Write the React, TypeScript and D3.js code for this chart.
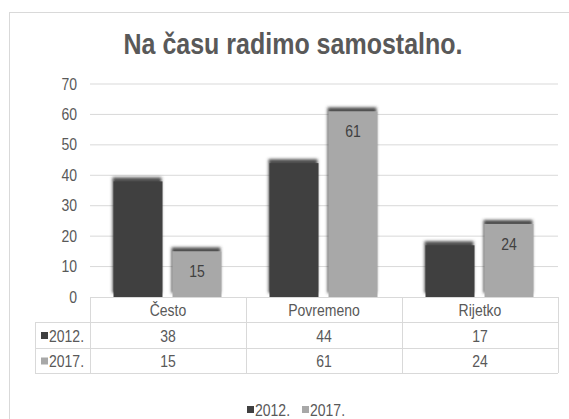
import React from "react";
import * as d3 from "d3";

const categories = ["Često", "Povremeno", "Rijetko"];
const seriesNames = ["2012.", "2017."];
const values2012 = [38, 44, 17];
const values2017 = [15, 61, 24];
const yTicks = [0, 10, 20, 30, 40, 50, 60, 70];
const title = "Na času radimo samostalno.";

const colors = ["#404040", "#A8A8A8"];
const textColor = "#595959";
const gridColor = "#D9D9D9";
const font = "'Liberation Sans', Arial, sans-serif";
const SY = 1.15;

function T(props: { x: number; y: number; size: number; anchor?: string; fill?: string; weight?: string; mid?: boolean; children: any }) {
  const { x, y, size, anchor = "start", fill = textColor, weight = "normal", mid = true, children } = props;
  return (
    <g transform={`translate(${x},${y}) scale(1,${SY})`}>
      <text x={0} y={0} dy={mid ? "0.35em" : undefined} textAnchor={anchor} fontSize={size} fontWeight={weight} fill={fill}>
        {children}
      </text>
    </g>
  );
}

export default function App() {
  const W = 569, H = 419;
  const plotLeft = 90, plotRight = 558;
  const y = d3.scaleLinear().domain([0, 70]).range([297, 84]);
  const x = d3.scaleBand<string>().domain(categories).range([plotLeft, plotRight]);
  const bw = x.bandwidth();
  const sub = d3.scaleBand<string>().domain(seriesNames).range([23.5, 23.5 + 108]).paddingInner(0.17);
  const series = [values2012, values2017];
  const rowY = [297, 322, 348, 373];

  return (
    <svg width={W} height={H} style={{ position: "absolute", left: 0, top: 0, background: "#fff" }} fontFamily={font}>
      <defs>
        <filter id="sh" x="-20%" y="-20%" width="140%" height="140%">
          <feGaussianBlur in="SourceAlpha" stdDeviation="1.6" result="b" />
          <feOffset in="b" dx="-1.5" dy="-4.5" result="o" />
          <feFlood floodColor="#3a3a3a" floodOpacity="0.9" />
          <feComposite in2="o" operator="in" result="s" />
          <feMerge>
            <feMergeNode in="s" />
            <feMergeNode in="SourceGraphic" />
          </feMerge>
        </filter>
      </defs>
      <rect x={0} y={0} width={W} height={H} fill="#fff" />
      <rect x={9.5} y={12.5} width={W} height={H} fill="none" stroke={gridColor} />
      <T x={293} y={54} size={25} anchor="middle" weight="bold" mid={false}>{title}</T>
      {yTicks.map((t) => (
        <g key={t}>
          {t > 0 && <line x1={plotLeft} x2={plotRight} y1={y(t)} y2={y(t)} stroke={gridColor} />}
          <T x={77} y={y(t)} size={14} anchor="end">{t}</T>
        </g>
      ))}
      {categories.map((c, i) => (
        <g key={c} transform={`translate(${x(c)},0)`}>
          {seriesNames.map((s, j) => {
            const v = series[j][i];
            const bx = sub(s)!;
            const w = sub.bandwidth();
            return (
              <g key={s}>
                <rect x={bx} y={y(v)} width={w} height={y(0) - y(v)} fill={colors[j]} filter="url(#sh)" />
                <T x={bx + w / 2} y={y(v) + 20} size={14} anchor="middle" fill="#404040">{v}</T>
              </g>
            );
          })}
        </g>
      ))}
      {/* data table */}
      <line x1={plotLeft} x2={plotRight} y1={rowY[0] + 0.5} y2={rowY[0] + 0.5} stroke={gridColor} />
      {rowY.slice(1).map((ry) => (
        <line key={ry} x1={35} x2={plotRight} y1={ry + 0.5} y2={ry + 0.5} stroke={gridColor} />
      ))}
      <line x1={35.5} x2={35.5} y1={rowY[1]} y2={rowY[3]} stroke={gridColor} />
      <line x1={plotLeft + 0.5} x2={plotLeft + 0.5} y1={rowY[0]} y2={rowY[3]} stroke={gridColor} />
      {categories.map((c) => (
        <line key={c} x1={x(c)! + bw + 0.5} x2={x(c)! + bw + 0.5} y1={rowY[0]} y2={rowY[3]} stroke={gridColor} />
      ))}
      {categories.map((c) => (
        <T key={c} x={x(c)! + bw / 2} y={(rowY[0] + rowY[1]) / 2 + 1} size={14} anchor="middle">{c}</T>
      ))}
      {seriesNames.map((s, j) => {
        const cy = (rowY[j + 1] + rowY[j + 2]) / 2 + 1;
        return (
          <g key={s}>
            <rect x={41} y={cy - 4} width={7} height={7} fill={colors[j]} />
            <T x={49} y={cy} size={14}>{s}</T>
            {categories.map((c, i) => (
              <T key={c} x={x(c)! + bw / 2} y={cy} size={14} anchor="middle">{series[j][i]}</T>
            ))}
          </g>
        );
      })}
      {/* legend */}
      {seriesNames.map((s, j) => {
        const lx = 247 + j * 55;
        return (
          <g key={s}>
            <rect x={lx} y={406} width={7} height={7} fill={colors[j]} />
            <T x={lx + 8} y={410} size={14}>{s}</T>
          </g>
        );
      })}
    </svg>
  );
}
